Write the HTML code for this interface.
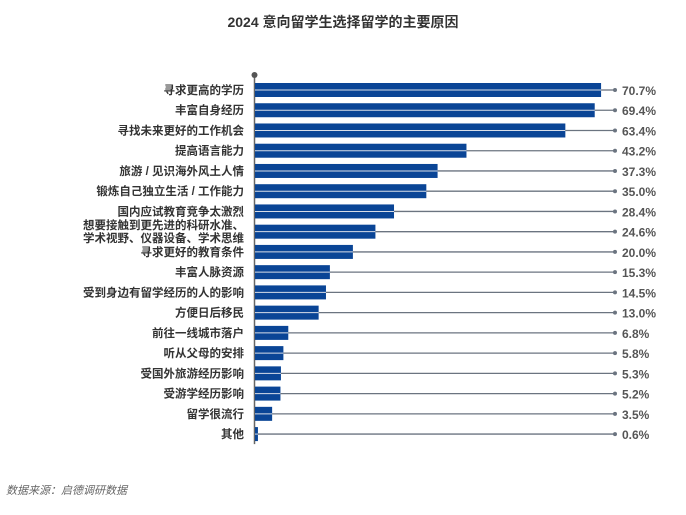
<!DOCTYPE html>
<html><head><meta charset="utf-8"><style>
body{margin:0;width:686px;height:510px;background:#fff;overflow:hidden;font-family:"Liberation Sans","Noto Sans CJK SC",sans-serif}
</style></head><body>
<svg width="686" height="510" xmlns="http://www.w3.org/2000/svg">
<text x="343" y="27" text-anchor="middle" font-size="14" font-weight="bold" fill="#333" font-family="Liberation Sans, Noto Sans CJK SC, sans-serif">2024 意向留学生选择留学的主要原因</text>
<text x="6" y="494" font-size="11" font-style="italic" fill="#666" font-family="Liberation Sans, Noto Sans CJK SC, sans-serif">数据来源：启德调研数据</text>
<g id="plot"></g>
</svg>
<script>
const categories=[["寻求更高的学历"],["丰富自身经历"],["寻找未来更好的工作机会"],["提高语言能力"],["旅游 / 见识海外风土人情"],["锻炼自己独立生活 / 工作能力"],["国内应试教育竞争太激烈"],["想要接触到更先进的科研水准、","学术视野、仪器设备、学术思维"],["寻求更好的教育条件"],["丰富人脉资源"],["受到身边有留学经历的人的影响"],["方便日后移民"],["前往一线城市落户"],["听从父母的安排"],["受国外旅游经历影响"],["受游学经历影响"],["留学很流行"],["其他"]];
const values=[70.7,69.4,63.4,43.2,37.3,35.0,28.4,24.6,20.0,15.3,14.5,13.0,6.8,5.8,5.3,5.2,3.5,0.6];
const valueLabels=["70.7%","69.4%","63.4%","43.2%","37.3%","35.0%","28.4%","24.6%","20.0%","15.3%","14.5%","13.0%","6.8%","5.8%","5.3%","5.2%","3.5%","0.6%"];
const NS="http://www.w3.org/2000/svg";
const g=document.getElementById('plot');
const x0=255,pxPer=4.895,y0=90,step=20.24,bh=14,dotX=615;
const xs=v=>x0+v*pxPer, ys=i=>y0+i*step;
function mk(t,a){const e=document.createElementNS(NS,t);for(const k in a)e.setAttribute(k,a[k]);g.appendChild(e);return e;}
const ax=mk('line',{x1:x0-0.5,x2:x0-0.5,y1:75,y2:ys(values.length-1)+10,stroke:'#666','stroke-width':1.5});


const ad=mk('circle',{cx:x0-0.5,cy:75,r:3,fill:'#555'});


values.forEach((v,i)=>{
 const y=ys(i),xe=xs(v);
 const b=mk('rect',{x:x0,y:y-bh/2,width:xe-x0,height:bh,fill:'#0a4596'});
 
 
 mk('line',{x1:x0,x2:xe,y1:y,y2:y,stroke:'#d8dee8','stroke-width':1});
 const ld=mk('line',{x1:xe,x2:dotX,y1:y,y2:y,stroke:'#6b7480','stroke-width':1.3});
 
 
 mk('circle',{cx:dotX,cy:y,r:2,fill:'#6b7480'});
 const vt=mk('text',{x:622,y:y+5,'font-size':12,'font-weight':'bold',fill:'#555'});
 vt.textContent=valueLabels[i];
 
 
 const lines=categories[i];
 lines.forEach((s,j)=>{
  const ty=y+4+(j-(lines.length-1)/2)*13;
  const t=mk('text',{x:244,y:ty,'text-anchor':'end','font-size':11.5,'font-weight':'bold',fill:'#333'});
  t.textContent=s;
  
  
 });
});
</script>
</body></html>
